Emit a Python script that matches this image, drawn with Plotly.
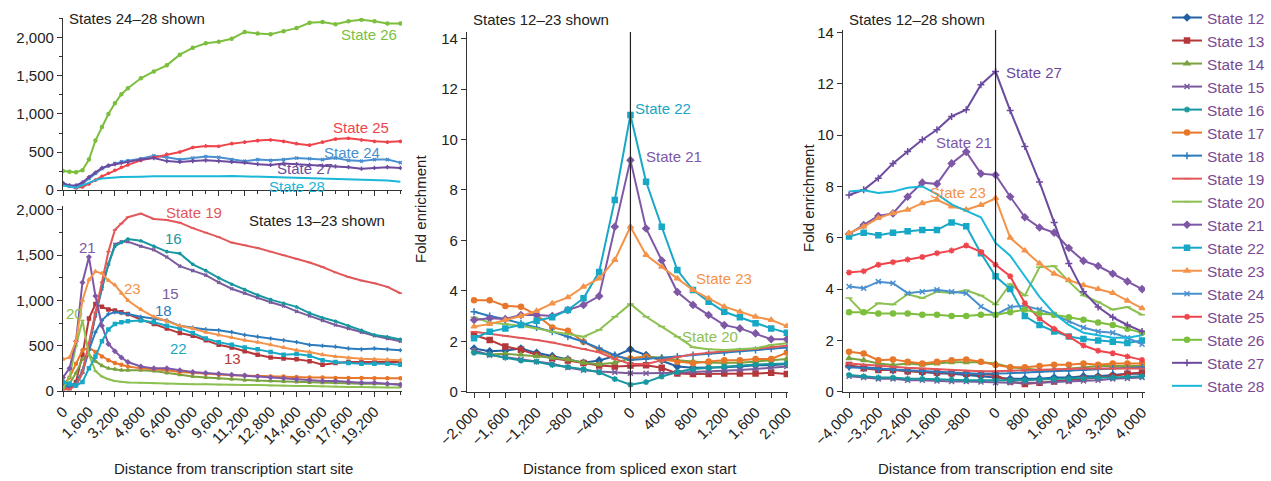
import plotly.graph_objects as go

W, H = 1271, 481
FONT = "Liberation Sans, Arial, Helvetica, sans-serif"

# ---------------- colours / symbols per state ----------------
states = list(range(12, 29))
colors = {
    12: "#2461a3", 13: "#b5373a", 14: "#7aa23e", 15: "#7a5c9c", 16: "#17979f",
    17: "#e8772a", 18: "#2c7bbd", 19: "#e2575a", 20: "#8cc152", 21: "#7e58a6",
    22: "#17a8c6", 23: "#f4934a", 24: "#4a90d0", 25: "#f0444c", 26: "#7cbf3e",
    27: "#6c4a9e", 28: "#1bb7d8",
}
symbols = {
    12: "diamond", 13: "square", 14: "triangle-up", 15: "x-thin", 16: "asterisk",
    17: "circle", 18: "cross-thin", 19: "line-ew", 20: "line-ew", 21: "diamond",
    22: "square", 23: "triangle-up", 24: "x-thin", 25: "asterisk", 26: "circle",
    27: "cross-thin", 28: None,
}

# ---------------- Panel 1: distance from transcription start site ----------------
tss_x = [0, 400, 800, 1200, 1600, 2000, 2400, 2800, 3200, 3600, 4000, 4800, 5600, 6400,
         7200, 8000, 8800, 9600, 10400, 11200, 12000, 12800, 13600, 14400, 15200, 16000,
         16800, 17600, 18400, 19200, 20000, 20800]

tss_top = {
    24: [90, 50, 30, 80, 150, 220, 280, 320, 350, 370, 385, 410, 450, 430, 400, 420, 440, 430,
         400, 380, 400, 390, 400, 420, 410, 400, 420, 390, 380, 400, 400, 360],
    25: [70, 50, 30, 40, 80, 130, 180, 220, 260, 300, 330, 390, 430, 470, 500, 560, 580, 575,
         610, 630, 650, 660, 640, 610, 590, 630, 670, 680, 660, 640, 630, 640],
    26: [250, 240, 235, 260, 400, 650, 830, 1000, 1140, 1260, 1340, 1470, 1560, 1640, 1780, 1870,
         1930, 1950, 1990, 2080, 2060, 2050, 2090, 2130, 2200, 2210, 2180, 2220, 2240, 2220, 2190, 2190],
    27: [90, 60, 60, 100, 170, 230, 290, 320, 340, 360, 370, 400, 420, 380, 370, 380, 390, 380,
         370, 360, 340, 330, 350, 340, 330, 320, 310, 300, 280, 290, 300, 290],
    28: [60, 40, 30, 60, 100, 130, 150, 160, 165, 170, 170, 175, 180, 180, 175, 175, 180, 180,
         185, 180, 175, 170, 165, 165, 160, 155, 150, 145, 140, 135, 125, 110],
}

tss_bottom = {
    13: [30, 30, 100, 400, 800, 960, 930, 900, 890, 870, 850, 790, 740, 690, 640, 610, 560, 510,
         480, 440, 400, 370, 360, 350, 330, 290, 310, 320, 320, 320, 320, 320],
    14: [40, 80, 200, 350, 400, 330, 280, 250, 240, 230, 230, 230, 220, 200, 180, 160, 150, 140,
         130, 120, 115, 110, 105, 100, 95, 90, 90, 85, 80, 80, 75, 75],
    15: [80, 60, 80, 220, 480, 830, 1130, 1400, 1620, 1650, 1650, 1600, 1560, 1480, 1380, 1330,
         1280, 1200, 1130, 1080, 1030, 980, 940, 880, 830, 780, 730, 690, 650, 610, 580, 550],
    16: [80, 60, 80, 220, 500, 850, 1150, 1400, 1600, 1640, 1680, 1660, 1600, 1540, 1520, 1400,
         1330, 1250, 1180, 1120, 1060, 1010, 970, 930, 860, 810, 770, 720, 670, 620, 600, 570],
    17: [60, 150, 300, 450, 480, 430, 380, 340, 310, 290, 270, 250, 240, 230, 210, 200, 190, 180,
         175, 170, 165, 160, 160, 155, 150, 150, 145, 145, 145, 140, 140, 140],
    18: [60, 50, 60, 200, 450, 650, 780, 850, 870, 860, 850, 820, 800, 780, 720, 700, 680, 670,
         650, 620, 600, 580, 560, 540, 510, 500, 490, 470, 460, 470, 460, 450],
    19: [20, 20, 60, 200, 530, 870, 1200, 1540, 1780, 1850, 1920, 1960, 1900, 1890, 1860, 1800,
         1750, 1700, 1640, 1610, 1580, 1540, 1500, 1460, 1420, 1370, 1310, 1260, 1220, 1190, 1150, 1080],
    20: [30, 150, 500, 780, 400, 220, 160, 130, 110, 100, 95, 90, 85, 80, 80, 75, 75, 70, 70, 65,
         65, 60, 60, 55, 55, 50, 50, 45, 45, 40, 40, 40],
    21: [150, 250, 550, 1200, 1480, 1050, 720, 520, 440, 370, 320, 270, 250, 250, 230, 210, 200,
         190, 180, 170, 160, 150, 140, 130, 120, 110, 110, 100, 90, 90, 80, 70],
    22: [100, 80, 60, 100, 250, 380, 550, 680, 740, 760, 770, 780, 760, 720, 690, 640, 580, 540,
         510, 480, 460, 430, 400, 410, 390, 340, 320, 310, 300, 300, 300, 290],
    23: [350, 370, 550, 1000, 1230, 1320, 1300, 1220, 1170, 1080, 1000, 900, 820, 770, 720, 690,
         650, 620, 590, 560, 540, 510, 480, 450, 430, 400, 380, 365, 355, 350, 345, 340],
}

# ---------------- Panel 2: distance from spliced exon start ----------------
exon_x = [-2000, -1800, -1600, -1400, -1200, -1000, -800, -600, -400, -200, 0,
          200, 400, 600, 800, 1000, 1200, 1400, 1600, 1800, 2000]
exon = {
    12: [1.71, 1.6, 1.63, 1.71, 1.54, 1.41, 1.28, 1.15, 1.24, 1.41, 1.68,
         1.45, 1.25, 1.0, 0.95, 0.95, 0.97, 1.0, 1.05, 1.05, 1.1],
    13: [2.25, 2.05, 1.79, 1.66, 1.46, 1.33, 1.24, 1.14, 1.04, 1.0, 1.04,
         1.05, 0.95, 0.72, 0.7, 0.7, 0.72, 0.72, 0.72, 0.75, 0.7],
    14: [1.6, 1.47, 1.5, 1.47, 1.41, 1.35, 1.28, 1.15, 1.09, 1.15, 1.32,
         1.4, 1.35, 1.25, 1.2, 1.15, 1.15, 1.15, 1.2, 1.25, 1.3],
    15: [1.63, 1.45, 1.37, 1.28, 1.19, 1.11, 0.96, 0.85, 0.8, 0.77, 0.73,
         0.73, 0.73, 0.75, 0.78, 0.8, 0.83, 0.86, 0.9, 0.95, 1.0],
    16: [1.54, 1.47, 1.35, 1.24, 1.19, 1.06, 0.98, 0.89, 0.77, 0.5, 0.28,
         0.38, 0.6, 0.78, 0.9, 0.95, 1.0, 1.05, 1.08, 1.1, 1.12],
    17: [3.63, 3.63, 3.4, 3.37, 3.04, 2.55, 2.42, 1.98, 1.65, 1.39, 1.32,
         1.39, 1.28, 1.19, 1.13, 1.2, 1.25, 1.25, 1.3, 1.3, 1.55],
    18: [3.17, 3.0, 2.87, 2.71, 2.55, 2.38, 2.18, 1.98, 1.72, 1.45, 1.26,
         1.3, 1.35, 1.4, 1.45, 1.5, 1.55, 1.6, 1.65, 1.7, 1.75],
    19: [2.38, 2.3, 2.22, 2.14, 2.05, 1.95, 1.83, 1.7, 1.56, 1.3, 1.1,
         1.1, 1.25, 1.38, 1.48, 1.55, 1.6, 1.65, 1.7, 1.75, 1.82],
    20: [2.95, 2.74, 2.68, 2.61, 2.51, 2.38, 2.29, 2.18, 2.45, 2.97, 3.48,
         2.97, 2.58, 2.18, 1.76, 1.68, 1.65, 1.68, 1.72, 1.85, 1.92],
    21: [2.84, 2.91, 2.88, 3.04, 3.04, 3.0, 3.24, 3.44, 3.79, 6.54, 9.18,
         6.47, 5.2, 3.95, 3.44, 3.04, 2.64, 2.51, 2.31, 2.08, 2.08],
    22: [2.12, 2.38, 2.51, 2.64, 2.81, 2.95, 3.24, 3.7, 4.75, 7.6, 10.97,
         8.32, 6.54, 4.82, 4.03, 3.57, 3.17, 2.95, 2.71, 2.51, 2.34],
    23: [2.58, 2.68, 2.84, 3.0, 3.2, 3.5, 3.74, 4.16, 4.49, 5.22, 6.54,
         5.42, 4.95, 4.49, 4.03, 3.7, 3.37, 3.17, 2.97, 2.84, 2.6],
}

# ---------------- Panel 3: distance from transcription end site ----------------
tes_x = [-4000, -3600, -3200, -2800, -2400, -2000, -1600, -1200, -800, -400, 0,
         400, 800, 1200, 1600, 2000, 2400, 2800, 3200, 3600, 4000]
tes = {
    12: [1.0, 0.95, 0.9, 0.85, 0.8, 0.75, 0.72, 0.7, 0.65, 0.6, 0.55,
         0.5, 0.5, 0.5, 0.55, 0.55, 0.6, 0.6, 0.65, 0.7, 0.7],
    13: [1.04, 0.91, 0.85, 0.85, 0.8, 0.78, 0.75, 0.72, 0.7, 0.68, 0.65,
         0.4, 0.3, 0.35, 0.4, 0.45, 0.5, 0.55, 0.6, 0.7, 0.75],
    14: [1.3, 1.23, 1.1, 1.04, 1.1, 1.05, 1.1, 1.15, 1.15, 1.15, 1.1,
         0.95, 0.9, 0.85, 0.85, 0.9, 0.95, 1.0, 1.0, 1.0, 1.0],
    15: [0.6, 0.55, 0.5, 0.5, 0.45, 0.45, 0.42, 0.4, 0.4, 0.38, 0.35,
         0.35, 0.35, 0.35, 0.38, 0.4, 0.42, 0.45, 0.5, 0.52, 0.55],
    16: [0.65, 0.6, 0.55, 0.55, 0.5, 0.5, 0.48, 0.47, 0.45, 0.45, 0.45,
         0.45, 0.45, 0.48, 0.5, 0.5, 0.52, 0.55, 0.55, 0.58, 0.6],
    17: [1.56, 1.49, 1.23, 1.26, 1.17, 1.1, 1.17, 1.23, 1.26, 1.17, 1.04,
         0.95, 0.95, 1.0, 1.05, 1.05, 1.1, 1.05, 1.1, 1.1, 1.1],
    18: [0.95, 0.92, 0.88, 0.85, 0.82, 0.8, 0.78, 0.75, 0.72, 0.7, 0.7,
         0.72, 0.75, 0.78, 0.8, 0.82, 0.85, 0.88, 0.9, 0.92, 0.95],
    19: [1.1, 1.05, 1.0, 0.97, 0.93, 0.9, 0.87, 0.85, 0.82, 0.8, 0.8,
         0.82, 0.83, 0.85, 0.87, 0.88, 0.9, 0.9, 0.9, 0.9, 0.9],
    20: [3.65, 3.05, 3.45, 3.4, 3.8, 3.65, 3.9, 3.85, 3.95, 3.75, 3.4,
         4.2, 3.75, 4.85, 4.9, 4.3, 3.75, 3.5, 3.2, 3.3, 3.0],
    21: [6.15, 6.5, 6.85, 6.95, 7.6, 8.15, 8.1, 8.9, 9.35, 8.5, 8.45,
         7.6, 6.8, 6.4, 6.2, 5.6, 5.1, 4.9, 4.6, 4.3, 4.0],
    22: [6.05, 6.2, 6.1, 6.2, 6.25, 6.3, 6.3, 6.6, 6.45, 5.4, 4.5,
         4.0, 2.95, 2.6, 2.35, 2.15, 2.05, 2.0, 1.95, 1.9, 2.0],
    23: [6.18, 6.44, 6.77, 6.96, 7.09, 7.35, 7.48, 7.22, 7.09, 7.28, 7.54,
         6.0, 5.5, 5.0, 4.6, 4.35, 4.15, 4.0, 3.85, 3.55, 3.25],
    24: [4.1, 4.03, 4.29, 4.23, 3.84, 3.9, 3.97, 3.9, 3.84, 3.32, 3.0,
         3.3, 3.35, 3.2, 3.0, 2.75, 2.5, 2.35, 2.3, 2.1, 1.85],
    25: [4.65, 4.7, 4.95, 5.05, 5.15, 5.25, 5.4, 5.5, 5.7, 5.45, 4.95,
         4.5, 3.45, 2.85, 2.45, 2.15, 1.8, 1.6, 1.5, 1.37, 1.24],
    26: [3.1, 3.1, 3.05, 3.05, 3.05, 3.0, 3.0, 2.95, 2.95, 3.0, 3.0,
         3.1, 3.2, 3.05, 3.0, 2.9, 2.8, 2.7, 2.6, 2.45, 2.3],
    27: [7.67, 7.87, 8.32, 8.9, 9.36, 9.82, 10.21, 10.73, 10.99, 11.97, 12.48,
         10.96, 9.56, 8.17, 6.6, 5.0, 3.9, 3.3, 2.9, 2.6, 2.35],
    28: [7.8, 7.85, 7.75, 7.8, 7.95, 8.0, 7.7, 7.3, 7.05, 6.8, 5.8,
         5.3, 4.5, 3.7, 3.05, 2.6, 2.3, 2.2, 2.1, 2.1, 2.2],
}

fig = go.Figure()


def add_series(x, y, s, xa, ya, show, msize=5, lw=2):
    c = colors[s]
    sym = symbols[s]
    if sym is None:
        mode, marker = "lines", None
    else:
        mode = "lines+markers"
        marker = dict(symbol=sym, size=msize, color=c, line=dict(color=c, width=1.5))
    fig.add_trace(go.Scatter(
        x=x, y=y, mode=mode, name=f"State {s}", marker=marker,
        line=dict(color=c, width=lw), xaxis=xa, yaxis=ya,
        showlegend=show, legendrank=s, hoverinfo="skip",
    ))


for s, v in tss_top.items():
    add_series(tss_x, v, s, "x", "y", False, msize=3)
for s, v in tss_bottom.items():
    add_series(tss_x, v, s, "x2", "y2", False, msize=3)
for s, v in exon.items():
    add_series(exon_x, v, s, "x3", "y3", False, msize=5)
for s in states:
    add_series(tes_x, tes[s], s, "x4", "y4", True, msize=5)

AXC = "#333333"


def axis(**kw):
    base = dict(showline=True, linecolor=AXC, linewidth=1.3, ticks="outside", ticklen=5,
                tickwidth=1.3, tickcolor=AXC, showgrid=False, zeroline=False, automargin=False,
                tickfont=dict(size=15, family=FONT, color="#222222"), fixedrange=True)
    base.update(kw)
    return base


def px(xp):
    return xp / W


def py(yp):
    return 1 - yp / H


p1_dom = [px(63), px(402)]
tss_ticks = list(range(0, 19201, 1600))

fig.update_layout(
    width=W, height=H, autosize=False,
    margin=dict(l=0, r=0, t=0, b=0, autoexpand=False),
    paper_bgcolor="white", plot_bgcolor="white",
    font=dict(family=FONT, size=15, color="#222222"),
    xaxis=axis(domain=p1_dom, anchor="y", range=[0, 20900], tickvals=tss_ticks,
               showticklabels=False,
               minor=dict(dtick=800, tick0=0, ticks="outside", ticklen=3, tickcolor=AXC)),
    yaxis=axis(domain=[py(190), py(18)], anchor="x", range=[0, 2263], dtick=500,
               tickformat=",", minor=dict(dtick=250, ticks="outside", ticklen=3, tickcolor=AXC)),
    xaxis2=axis(domain=p1_dom, anchor="y2", range=[0, 20900], tickvals=tss_ticks,
                tickformat=",", tickangle=-45,
                minor=dict(dtick=800, tick0=0, ticks="outside", ticklen=3, tickcolor=AXC)),
    yaxis2=axis(domain=[py(391), py(206)], anchor="x2", range=[0, 2044], dtick=500,
                tickformat=",", minor=dict(dtick=250, ticks="outside", ticklen=3, tickcolor=AXC)),
    xaxis3=axis(domain=[px(467), px(788)], anchor="y3", range=[-2090, 2015], dtick=400, tick0=0,
                tickformat=",", tickangle=-45,
                minor=dict(dtick=200, tick0=0, ticks="outside", ticklen=5, tickcolor=AXC)),
    yaxis3=axis(domain=[py(391.7), py(32)], anchor="x3", range=[0, 14.26], dtick=2),
    xaxis4=axis(domain=[px(843), px(1145)], anchor="y4", range=[-4165, 4080], dtick=800, tick0=0,
                tickformat=",", tickangle=-45,
                minor=dict(dtick=400, tick0=0, ticks="outside", ticklen=5, tickcolor=AXC)),
    yaxis4=axis(domain=[py(391.7), py(30)], anchor="x4", range=[0, 14.1], dtick=2),
    legend=dict(x=px(1167), y=py(1), xanchor="left", yanchor="top",
                font=dict(size=15.4, family=FONT, color="#7a4b94"),
                bgcolor="rgba(0,0,0,0)", borderwidth=0, itemwidth=30, tracegroupgap=0),
)

# vertical reference lines at 0
for xa, ya in (("x3", "y3"), ("x4", "y4")):
    fig.add_shape(type="line", xref=xa, yref=f"{ya} domain", x0=0, x1=0, y0=0, y1=1,
                  line=dict(color="#222222", width=1.2))


def note(text, xp, yp, color="#222222", xanchor="center", size=15, angle=0):
    fig.add_annotation(text=text, x=px(xp), y=py(yp), xref="paper", yref="paper",
                       xanchor=xanchor, yanchor="middle", showarrow=False, textangle=angle,
                       font=dict(size=size, family=FONT, color=color))


# panel titles
note("States 24–28 shown", 67, 18, xanchor="left")
note("States 13–23 shown", 317, 220)
note("States 12–23 shown", 471, 19, xanchor="left")
note("States 12–28 shown", 847, 19, xanchor="left")

# panel 1 labels
note("State 26", 369, 34, colors[26])
note("State 25", 361, 127, colors[25])
note("State 24", 352, 152, colors[24])
note("State 27", 305, 168, colors[27])
note("State 28", 297, 186, colors[28])
note("State 19", 194, 212, colors[19])
note("16", 173, 238, colors[16])
note("15", 170, 293, colors[15])
note("21", 87, 247, colors[21])
note("23", 132, 288, colors[23])
note("18", 163, 310, colors[18])
note("22", 178, 348, colors[22])
note("13", 232, 358, colors[13])
note("20", 74, 313, colors[20])

# panel 2 labels
note("State 22", 663, 108, colors[22])
note("State 21", 674, 157, colors[21])
note("State 23", 724, 278, colors[23])
note("State 20", 710, 336, colors[20])

# panel 3 labels
note("State 27", 1034, 72, colors[27])
note("State 21", 964, 142, colors[21])
note("State 23", 958, 193, colors[23])

# axis titles
note("Distance from transcription start site", 233, 468)
note("Distance from spliced exon start", 630, 468)
note("Distance from transcription end site", 995, 468)
note("Fold enrichment", 421, 209, angle=-90)
note("Fold enrichment", 808, 198, angle=-90)

fig.write_html("out.html")
